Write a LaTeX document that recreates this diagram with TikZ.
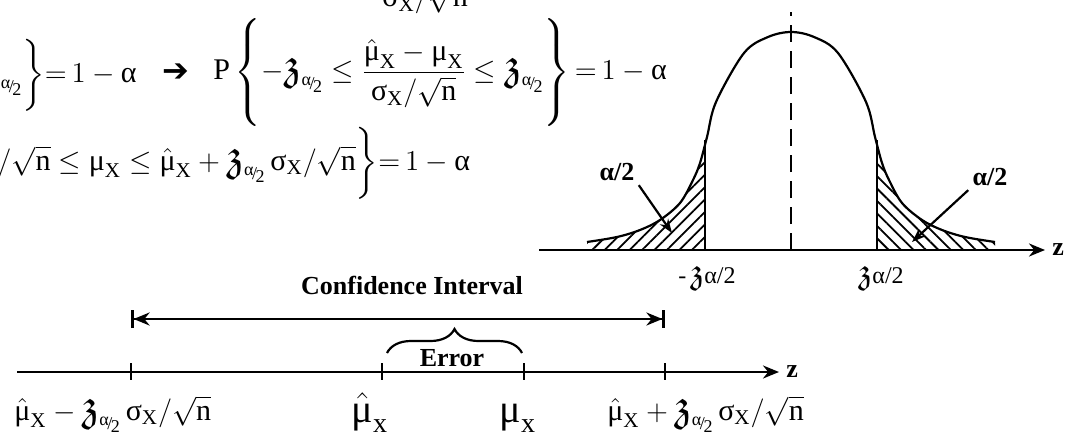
\documentclass[tikz,border=0pt]{standalone}
\usepackage{amsmath,amssymb}
\usepackage{graphicx}
\usepackage{fontspec}
\setmainfont{Liberation Serif}
\newfontfamily\dejavu{DejaVu Sans}
\usetikzlibrary{arrows.meta, calc, patterns.meta, decorations.pathreplacing}

\newcommand{\gmu}{\text{μ}}
\newcommand{\gsig}{\text{σ}}
\newcommand{\gal}{\text{α}}
\newcommand{\zz}{\mathord{\text{\scalebox{1.5}{$\mathfrak{z}$}}}}
\newcommand{\ha}{\text{\fontsize{9}{9}\selectfont\raisebox{0.5ex}{α}\kern-0.08em/\kern-0.08em\raisebox{-0.3ex}{2}}}
\newcommand{\X}{\mathrm{X}}
\newcommand{\bellcurve}{plot[smooth, tension=0.55] coordinates {(587,242) (617,237) (640,230) (660,220) (680,203) (693,180) (700,163) (707,137) (716,102) (744,53) (768,37) (791,32) (814,37) (838,53) (866,102) (875,137) (882,163) (889,180) (902,203) (922,220) (942,230) (965,237) (995,242)}}

\begin{document}
\begin{tikzpicture}[x=0.5pt, y=-0.5pt, >={Stealth[length=8pt, width=6.5pt]},
  every node/.style={font=\fontsize{15}{17}\selectfont, inner sep=0pt},
  axis/.style={line width=1.3pt},
  curve/.style={line width=1.1pt},
  lbl/.style={font=\fontsize{13}{15}\selectfont\bfseries},
  small/.style={font=\fontsize{12}{14}\selectfont}]

  \useasboundingbox (0,0) rectangle (1068,444);
  \clip (0,0) rectangle (1068,444);

  % equations
  \node[anchor=base west] (den) at (382,7) {$\gsig_\X/\sqrt{\mathrm{n}}$};
  \node[anchor=base east] (eqa) at (137,83) {$\zz_{\ha}\bigg\}{=}\,1-\gal$};
  \node[font=\fontsize{16}{18}\selectfont\dejavu] (imp) at (176,73) {➔};
  \node[anchor=base west] (eqb) at (213,80) {$\mathrm{P}\left\{-\zz_{\ha}\le\dfrac{\hat{\gmu}_\X-\gmu_\X}{\gsig_\X/\sqrt{\mathrm{n}}}\le\zz_{\ha}\vrule height 30pt depth 22pt width 0pt\right\}{=}\,1-\gal$};
  \node[anchor=base west] (eqc) at (-3,170) {$/\sqrt{\mathrm{n}}\le\gmu_\X\le\hat{\gmu}_\X+\zz_{\ha}\,\gsig_\X/\sqrt{\mathrm{n}}\bigg\}{=}\,1-\gal$};

  % bell curve
  \coordinate (bc) at (791,250);
  \coordinate (bl) at (539,250);
  \coordinate (br) at (1045,250);
  \coordinate (vl) at (705,250);
  \coordinate (vr) at (877,250);
  \begin{scope}
    \clip \bellcurve -- (995,250) -- (587,250) -- cycle;
    \fill[pattern={Lines[angle=45, distance=4.4pt, line width=0.9pt]}] (580,0) rectangle (vl);
    \fill[pattern={Lines[angle=-45, distance=4.4pt, line width=0.9pt]}] (vr) rectangle (1000,0);
  \end{scope}
  \draw[curve] \bellcurve;
  \draw[curve] (vl) -- (705,140);
  \draw[curve] (vr) -- (877,140);
  \draw[curve, dash pattern=on 8.5pt off 4.5pt] (bc) -- (791,12);
  \draw[axis, ->] (bl) -- (br) node[right=3pt, lbl] (bz) {z};

  \node[lbl, inner sep=2pt] (al) at (617,172) {α/2};
  \node[lbl, inner sep=2pt] (ar) at (990,177) {α/2};
  \coordinate (ta) at (672,233);
  \coordinate (tb) at (912,242);
  \draw[curve, ->, >={Stealth[length=7pt, width=5pt]}] (al.south east) -- (ta);
  \draw[curve, ->, >={Stealth[length=7pt, width=5pt]}] (ar.south west) -- (tb);
  \node[small, anchor=north] (zl) at (707,266) {-\,$\zz\text{α/2}$};
  \node[small, anchor=north] (zr) at (881,266) {$\zz\text{α/2}$};

  % interval line
  \coordinate (axs) at (17,372);
  \coordinate (axe) at (779,372);
  \coordinate (lo) at (131,372);
  \coordinate (est) at (382,372);
  \coordinate (mu) at (524,372);
  \coordinate (hi) at (665,372);
  \draw[axis, ->] (axs) -- (axe) node[right=3pt, lbl] (az) {z};
  \foreach \p in {lo,est,mu,hi}
    \draw[axis] ($(\p)+(0,-9)$) -- ($(\p)+(0,8)$);

  \coordinate (cil) at (131,319);
  \coordinate (cir) at (665,319);
  \draw[axis, {Bar[width=9pt]Stealth[length=8pt, width=6.5pt]}-{Stealth[length=8pt, width=6.5pt]Bar[width=9pt]}] (cil) -- (cir);
  \node[lbl, anchor=base] (ci) at (412,294) {Confidence Interval};

  \coordinate (eb1) at (387,353);
  \coordinate (eb2) at (522,353);
  \draw[curve, decorate, decoration={brace, amplitude=12pt}] (eb1) -- (eb2);
  \node[lbl, anchor=base] (err) at (452,366) {Error};

  \node[anchor=base west] (llo) at (14,420) {$\hat{\gmu}_\X-\zz_{\ha}\,\gsig_\X/\sqrt{\mathrm{n}}$};
  \node[anchor=base, font=\fontsize{20}{24}\selectfont] (lest) at (370,422) {$\hat{\gmu}_{\mathrm{x}}$};
  \node[anchor=base, font=\fontsize{20}{24}\selectfont] (lmu) at (518,422) {$\gmu_{\mathrm{x}}$};
  \node[anchor=base west] (lhi) at (607,420) {$\hat{\gmu}_\X+\zz_{\ha}\,\gsig_\X/\sqrt{\mathrm{n}}$};
\end{tikzpicture}
\end{document}
